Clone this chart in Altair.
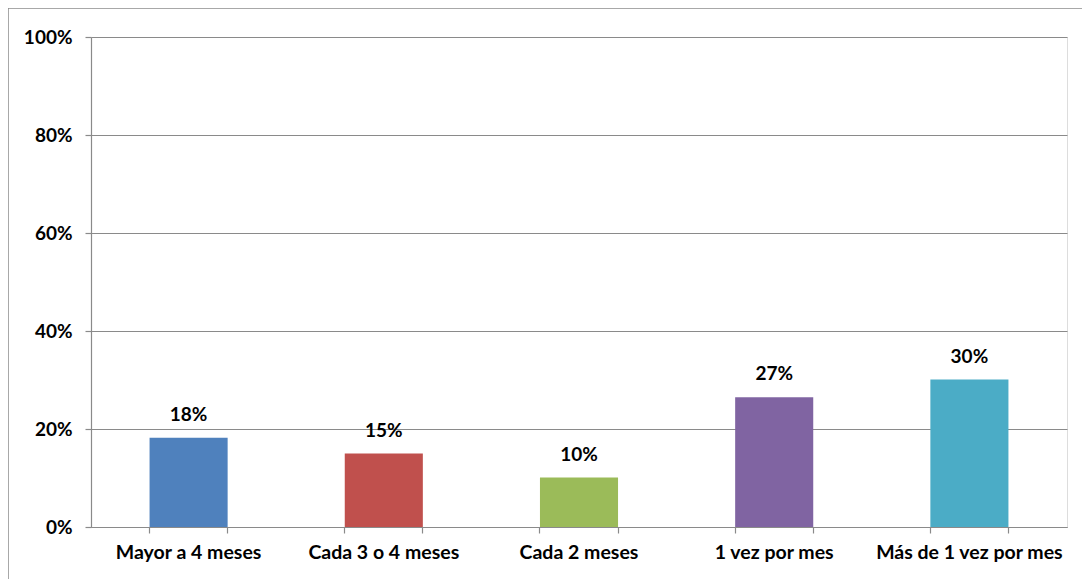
import altair as alt
import pandas as pd

categories = ["Mayor a 4 meses", "Cada 3 o 4 meses", "Cada 2 meses", "1 vez por mes", "Más de 1 vez por mes"]
values = [0.182, 0.150, 0.101, 0.265, 0.301]
labels = ["18%", "15%", "10%", "27%", "30%"]
colors = ["#4F81BD", "#C0504D", "#9BBB59", "#8064A2", "#4BACC6"]
y_ticks = [0, 0.2, 0.4, 0.6, 0.8, 1.0]

df = pd.DataFrame({"cat": categories, "val": values, "lab": labels, "col": colors})

FONT = "Lato"
FS = 19
GRAY = "#8a8a8a"

xscale = alt.Scale(domain=categories, paddingInner=0.6, paddingOuter=0.3)
yscale = alt.Scale(domain=[0, 1])

yenc = alt.Y("val:Q", scale=yscale, title=None,
             axis=alt.Axis(values=y_ticks, format=".0%", grid=True, gridColor=GRAY, gridWidth=1.2,
                           domainColor=GRAY, domainWidth=1.2, tickColor=GRAY, tickSize=6, tickWidth=1.2,
                           labelPadding=13, labelFont=FONT, labelFontSize=FS, labelFontWeight="bold",
                           labelColor="#000000"))

base = alt.Chart(df)

bars = base.mark_bar().encode(
    x=alt.X("cat:N", scale=xscale, sort=categories, title=None,
            axis=alt.Axis(orient="bottom", labelAngle=0, ticks=False, domain=True, domainColor=GRAY,
                          domainWidth=1.2, labelPadding=16, labelFont=FONT, labelFontSize=19.5,
                          labelFontWeight="bold", labelColor="#000000", grid=False,
                          labelLimit=0, labelOverlap=False)),
    y=yenc,
    color=alt.Color("col:N", scale=None),
)

text = base.mark_text(dy=-17, baseline="alphabetic", font=FONT, fontSize=FS, fontWeight="bold", color="#000000").encode(
    x=alt.X("cat:N", scale=xscale, sort=categories, title=None,
            axis=alt.Axis(orient="bottom", bandPosition=0, labels=False, domain=False, ticks=True,
                          tickColor=GRAY, tickWidth=1.2, tickSize=6, grid=False)),
    y=yenc,
    text="lab:N",
)

ticks_end = base.mark_bar(opacity=0).encode(
    x=alt.X("cat:N", scale=xscale, sort=categories, title=None,
            axis=alt.Axis(orient="bottom", bandPosition=1, labels=False, domain=False, ticks=True,
                          tickColor=GRAY, tickWidth=1.2, tickSize=6, grid=False)),
    y=yenc,
)

border = alt.Chart(pd.DataFrame({"d": [0]})).mark_rect(
    fill="transparent", stroke="#8c8c8c", strokeWidth=1.5, clip=False
).encode(
    x=alt.value(-83), x2=alt.value(1300), y=alt.value(-29), y2=alt.value(800)
)

chart = alt.layer(bars, text, ticks_end, border).resolve_axis(x="independent").properties(
    width=976, height=490,
    autosize=alt.AutoSizeParams(type="none"),
    padding={"left": 83, "top": 29, "right": 15, "bottom": 52},
).configure_view(stroke=None).configure(background="#ffffff")

chart.save("out.html", embed_options={"renderer": "svg", "actions": False})
